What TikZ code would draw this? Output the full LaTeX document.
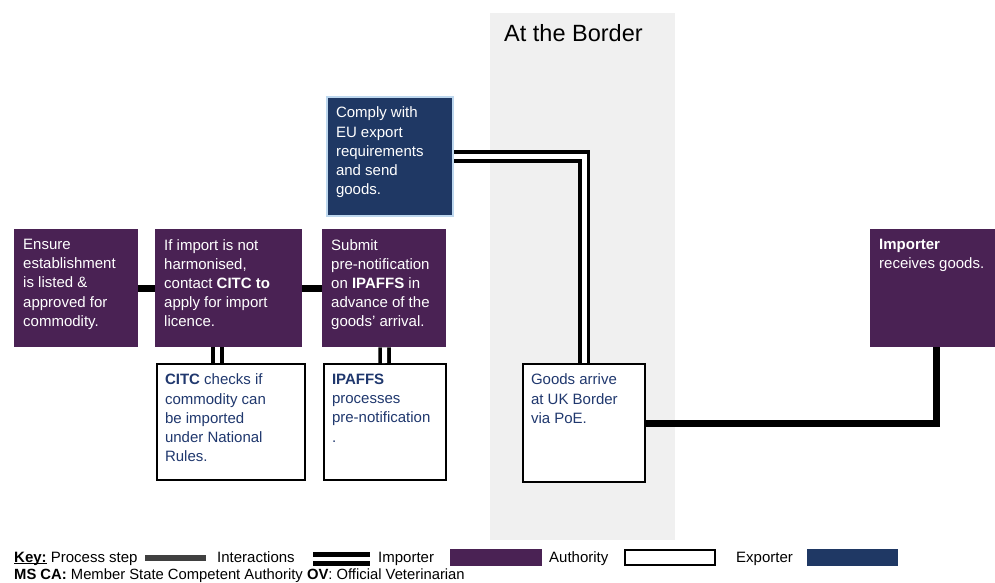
\documentclass[tikz,border=0pt]{standalone}
\usepackage{fontspec}
\setmainfont{Liberation Sans}
\usetikzlibrary{positioning}
\definecolor{ImpPurple}{RGB}{74,34,84}
\definecolor{ExpNavy}{RGB}{31,56,100}
\definecolor{ExpEdge}{RGB}{189,215,238}
\definecolor{AuthNavy}{RGB}{32,56,110}
\definecolor{BandGray}{RGB}{240,240,240}
\definecolor{KeyGray}{RGB}{64,64,64}
\newcommand{\cell}[3][106pt]{\parbox[t][#2][t]{#1}{\raggedright #3}}
\newcommand{\keyline}[1]{\setbox0\hbox{#1}\rlap{\rule[-1.6pt]{\wd0}{0.9pt}}\box0\relax}

\begin{document}
\begin{tikzpicture}[x=1pt, y=-1pt, font=\fontsize{15pt}{19.2pt}\selectfont,
	importer/.style={fill=ImpPurple, text=white, anchor=north west, inner xsep=9pt, inner ysep=10pt},
	exporter/.style={fill=ExpNavy, draw=ExpEdge, line width=2pt, text=white, anchor=north west, inner xsep=9pt, inner ysep=10pt},
	authority/.style={fill=white, draw=black, line width=2pt, text=AuthNavy, anchor=north west, inner xsep=8pt, inner ysep=10pt},
	process/.style={line width=7pt},
	interact/.style={double, line width=3.8pt, double distance=5pt},
	keytext/.style={anchor=base west, inner sep=0pt, font=\fontsize{15pt}{18pt}\selectfont}]
	\useasboundingbox (0,0) rectangle (995,583);

	% border band
	\fill[BandGray] (490,13) rectangle (675,540);
	\node[anchor=base west, inner sep=0pt, font=\fontsize{23.5pt}{28pt}\selectfont] (border) at (504,42) {At the Border};

	% steps
	\node[exporter] (comply) at (326,96) {\cell[108pt]{99pt}{Comply with\\EU export\\requirements\\and send\\goods.}};
	\node[importer] (ensure) at (14,229) {\cell{98pt}{Ensure\\establishment\\is listed \&\\approved for\\commodity.}};
	\node[importer] (harmonise) at (155,229) {\cell[129pt]{98pt}{If import is not\\harmonised,\\contact \textbf{CITC to}\\apply for import\\licence.}};
	\node[importer] (submit) at (322,229) {\cell{98pt}{Submit\\pre-notification\\on \textbf{IPAFFS} in\\advance of the\\goods’ arrival.}};
	\node[importer] (receive) at (870,229) {\cell[115pt]{98pt}{\textbf{Importer}\\receives goods.}};
	\node[authority] (citc) at (156,363) {\cell[132pt]{96pt}{\textbf{CITC} checks if\\commodity can\\be imported\\under National\\Rules.}};
	\node[authority] (ipaffs) at (323,363) {\cell[106pt]{96pt}{\textbf{IPAFFS}\\processes\\pre-notification\\.}};
	\node[authority] (goods) at (522,363) {\cell[106pt]{98pt}{Goods arrive\\at UK Border\\via PoE.}};

	% links
	\draw[process] (ensure) -- (harmonise);
	\draw[process] (harmonise) -- (submit);
	\draw[process] (goods.east) -| (receive.south);
	\draw[interact] ([xshift=-11.5pt]harmonise.south) -- ([xshift=-11.5pt]harmonise.south |- citc.north);
	\draw[interact] (submit) -- (ipaffs);
	\draw[interact] (comply.east) -| (goods.north);

	% key
	\node[keytext] (key) at (14,562.5) {\keyline{\textbf{Key:}} Process step};
	\fill[KeyGray] (145,555) rectangle (206,561);
	\node[keytext] (kinteract) at (217,562.5) {Interactions};
	\draw[interact, line width=5pt, double distance=4pt] (313,558.5) -- (370,558.5);
	\node[keytext] (kimporter) at (378,562.5) {Importer};
	\fill[ImpPurple] (450,549) rectangle (542,566);
	\node[keytext] (kauthority) at (549,562.5) {Authority};
	\draw[line width=2pt] (625,550) rectangle (715,565);
	\node[keytext] (kexporter) at (736,562.5) {Exporter};
	\fill[ExpNavy] (807,549) rectangle (898,566);
	\node[keytext, font=\fontsize{14.8pt}{16pt}\selectfont] (abbrev) at (14,579.6) {\textbf{MS CA:} Member State Competent Authority \textbf{OV}: Official Veterinarian};
\end{tikzpicture}
\end{document}
